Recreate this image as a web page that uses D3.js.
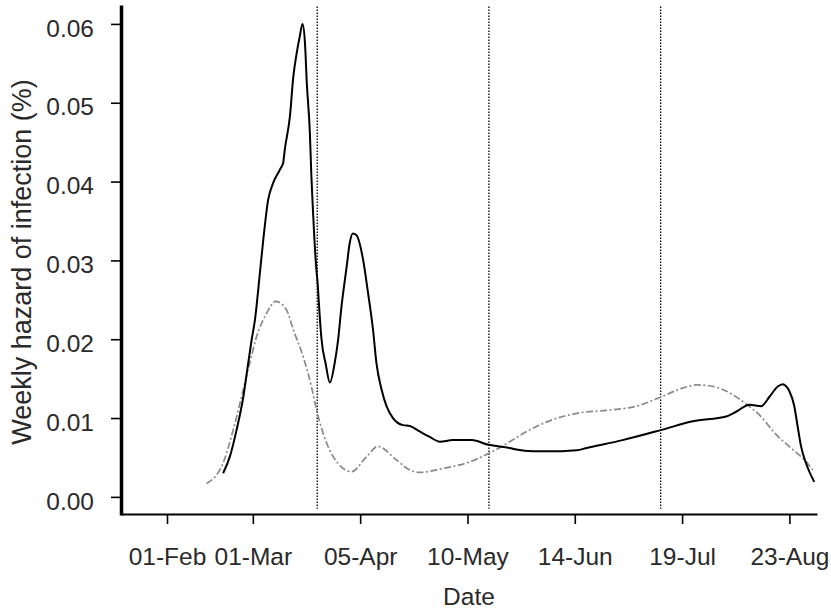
<!DOCTYPE html>
<html>
<head>
<meta charset="utf-8">
<script src="https://cdn.jsdelivr.net/npm/d3@7"></script>
<style>
  html, body { margin: 0; padding: 0; background: #fff; }
  svg { display: block; font-family: "Liberation Sans", Arial, sans-serif; }
</style>
</head>
<body>
<svg id="chart"></svg>
<script>
'use strict';

const WIDTH = 831;
const HEIGHT = 610;

// day of year 2009 for each point, and weekly hazard (%)
const solidDay = [
  50.3, 52.5, 54.7, 56.9, 58.5, 59.6, 60.7, 62.3, 63.4, 65.0, 66.6, 68.8, 69.9, 70.4,
  72.1, 73.2, 74.3, 75.3, 76.2, 77.0, 77.6, 78.6, 79.1, 79.7, 80.5, 81.2, 81.8, 82.4,
  83.8, 85.1, 86.7, 87.8, 88.9, 90.6, 91.6, 92.6, 93.8, 96.0, 97.6, 99.2, 100.3, 102.0,
  103.6, 105.7, 109.0, 111.2, 114.4, 117.7, 121.0, 125.2, 131.4, 136.9, 143.8, 146.0,
  151.3, 160.7, 165.6, 168.9, 180.6, 193.3, 203.5, 214.4, 217.6, 222.0, 225.8, 228.5,
  231.2, 232.8, 235.0, 236.6, 237.7, 238.8, 240.4, 243.1
];
const solidHazard = [
  0.0030, 0.0051, 0.0085, 0.0127, 0.0170, 0.0199, 0.0225, 0.0284, 0.0326, 0.0377, 0.0398, 0.0415, 0.0424, 0.0440,
  0.0483, 0.0533, 0.0563, 0.0584, 0.0600, 0.0576, 0.0525, 0.0462, 0.0406, 0.0356, 0.0300, 0.0267, 0.0230, 0.0200,
  0.0168, 0.0145, 0.0170, 0.0199, 0.0241, 0.0292, 0.0322, 0.0334, 0.0332, 0.0300, 0.0258, 0.0212, 0.0170, 0.0136,
  0.0115, 0.0100, 0.0091, 0.0090, 0.0083, 0.0076, 0.0070, 0.0072, 0.0072, 0.0066, 0.0062, 0.0060,
  0.0058, 0.0058, 0.0059, 0.0062, 0.0072, 0.0085, 0.0096, 0.0102, 0.0108, 0.0117, 0.0115, 0.0127,
  0.0140, 0.0143, 0.0134, 0.0115, 0.0089, 0.0064, 0.0043, 0.0019
];

const dashDay = [
  44.9, 50.3, 53.6, 56.3, 59.0, 61.2, 64.5, 67.5, 71.0, 73.2, 76.4, 79.1, 80.8, 82.9,
  86.2, 92.2, 97.1, 100.8, 106.8, 111.2, 114.4, 121.9, 129.7, 136.9, 143.8, 150.3,
  157.8, 165.6, 176.3, 185.1, 193.3, 200.2, 204.7, 208.9, 214.5, 219.8, 225.2, 230.7,
  236.1, 240.4, 242.6
];
const dashHazard = [
  0.0017, 0.0043, 0.0085, 0.0127, 0.0170, 0.0203, 0.0233, 0.0248, 0.0237, 0.0212, 0.0178, 0.0140, 0.0110, 0.0081,
  0.0051, 0.0032, 0.0051, 0.0064, 0.0047, 0.0034, 0.0031, 0.0036, 0.0043, 0.0055, 0.0070, 0.0085,
  0.0098, 0.0106, 0.0110, 0.0115, 0.0127, 0.0138, 0.0142, 0.0141, 0.0134, 0.0121, 0.0104, 0.0079,
  0.0060, 0.0045, 0.0034
];

const xTickDates = ['2009-02-01', '2009-03-01', '2009-04-05', '2009-05-10', '2009-06-14', '2009-07-19', '2009-08-23'];
const yTicks = [0, 0.01, 0.02, 0.03, 0.04, 0.05, 0.06];
const markerDates = ['2009-03-22', '2009-05-17', '2009-07-12'];

const parseDay = d3.timeParse('%Y-%m-%d');
const YEAR_START = new Date(2009, 0, 1);
const fromDoy = d => new Date(YEAR_START.getTime() + (d - 1) * 864e5);

const x = d3.scaleTime()
  .domain([new Date(2009, 0, 17), new Date(2009, 8, 1)])
  .range([121, 817]);

const y = d3.scaleLinear()
  .domain([-0.0023, 0.0624])
  .range([515, 5]);

const svg = d3.select('#chart')
  .attr('width', WIDTH)
  .attr('height', HEIGHT)
  .attr('viewBox', `0 0 ${WIDTH} ${HEIGHT}`);

svg.append('rect').attr('width', WIDTH).attr('height', HEIGHT).attr('fill', '#fff');

// dotted vertical markers
svg.append('g').selectAll('line')
  .data(markerDates)
  .join('line')
  .attr('x1', d => x(parseDay(d))).attr('x2', d => x(parseDay(d)))
  .attr('y1', y(0.0622)).attr('y2', y(-0.0015))
  .attr('stroke', '#000').attr('stroke-width', 1.3)
  .attr('stroke-dasharray', '1.5,1.5');

const line = d3.line()
  .x(d => x(d.date))
  .y(d => y(d.v))
  .curve(d3.curveMonotoneX);

const dashData = dashDay.map((d, i) => ({ date: fromDoy(d), v: dashHazard[i] }));
const solidData = solidDay.map((d, i) => ({ date: fromDoy(d), v: solidHazard[i] }));

svg.append('path')
  .datum(dashData)
  .attr('d', line)
  .attr('fill', 'none')
  .attr('stroke', '#8a8a8a')
  .attr('stroke-width', 1.7)
  .attr('stroke-dasharray', '7,2.5,2,2.5');

svg.append('path')
  .datum(solidData)
  .attr('d', line)
  .attr('fill', 'none')
  .attr('stroke', '#000')
  .attr('stroke-width', 2);

// axes
const xAxis = svg.append('g')
  .attr('transform', 'translate(0,514)')
  .call(d3.axisBottom(x)
    .tickValues(xTickDates.map(parseDay))
    .tickFormat(d3.timeFormat('%d-%b'))
    .tickSize(10)
    .tickSizeOuter(0)
    .tickPadding(24));
xAxis.select('.domain').attr('stroke-width', 2.2);
xAxis.selectAll('.tick line').attr('stroke-width', 1.6);

const yAxis = svg.append('g')
  .attr('transform', 'translate(121,0)')
  .call(d3.axisLeft(y)
    .tickValues(yTicks)
    .tickFormat(d3.format('.2f'))
    .tickSize(10)
    .tickSizeOuter(0)
    .tickPadding(17));
yAxis.select('.domain').attr('stroke-width', 3.5);
yAxis.selectAll('.tick line').attr('stroke-width', 1.6);
yAxis.selectAll('.tick text').attr('dy', '0.5em');

svg.selectAll('.tick text')
  .attr('font-family', '"Liberation Sans", Arial, sans-serif')
  .attr('font-size', 24.5)
  .attr('fill', '#2a2a2a');

svg.append('text')
  .attr('x', (121 + 817) / 2)
  .attr('y', 605)
  .attr('text-anchor', 'middle')
  .attr('font-size', 24.5)
  .attr('fill', '#2a2a2a')
  .text('Date');

svg.append('text')
  .attr('transform', 'translate(31,262) rotate(-90)')
  .attr('text-anchor', 'middle')
  .attr('font-size', 27)
  .attr('fill', '#2a2a2a')
  .text('Weekly hazard of infection (%)');
</script>
</body>
</html>
